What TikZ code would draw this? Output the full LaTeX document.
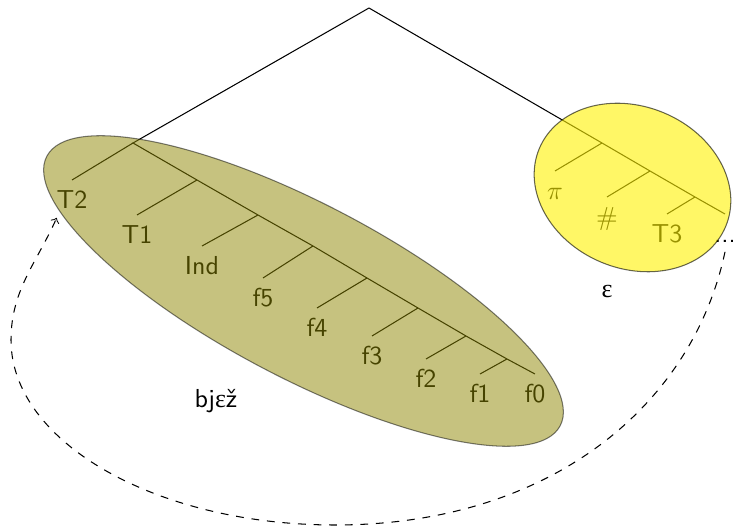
\documentclass[tikz,border=0pt]{standalone}
\usepackage{amsmath}
\usepackage{fontspec}
\newfontfamily\grk{Liberation Serif}
\usepackage{xcolor}
\usepackage{tikz}
\usetikzlibrary{shapes.geometric}

\begin{document}
\begin{tikzpicture}[x=0.3846pt, y=-0.3846pt,
    leaf/.style={anchor=north, font=\sffamily, text height=7.5pt, text depth=0pt},
    bag/.style={ellipse, draw, inner sep=0pt, opacity=#1}]
    \useasboundingbox (0,0) rectangle (733,529);

    % 1. Root and branch points
    \coordinate (root) at (369,8);
    \foreach \n/\x/\y in {a1/133/143, a2/197/180, a3/258/215, a4/313/246,
        a5/367/278, a6/418/308, a7/466/336, a8/507/359,
        b1/602/143, b2/650/171, b3/695/197}
        \coordinate (\n) at (\x,\y);

    % 2. Leaves
    \foreach \n/\x/\y/\t in {T2/72/180/T2, T1/137/215/T1, Ind/202/246/Ind,
        f5/263/278/f5, f4/317/308/f4, f3/372/336/f3, f2/426/359/f2,
        f1/480/374/f1, f0/535/374/f0,
        pi/555/171/$\pi$, hash/607/197/\#, T3/667/214/T3}
        \node[leaf] (\n) at (\x,\y) {\t};
    \node[leaf] (dots) at (725,214) {...};

    % 3. Branches
    \draw (root) -- (a1) -- (a2) -- (a3) -- (a4) -- (a5) -- (a6) -- (a7) -- (a8) -- (f0.north);
    \draw (root) -- (b1) -- (b2) -- (b3) -- (dots.north);
    \foreach \a/\n in {a1/T2, a2/T1, a3/Ind, a4/f5, a5/f4, a6/f3, a7/f2, a8/f1,
        b1/pi, b2/hash, b3/T3}
        \draw (\a) -- (\n.north);

    % 4. Ellipses over the tree
    \node[bag=0.5, fill=olive, minimum width=223pt, minimum height=67pt, rotate=-27.7] (bjez) at (303.5,291) {};
    \node[bag=0.6, fill=yellow, minimum width=77.7pt, minimum height=62.3pt, rotate=-22.6] (eps) at (632.5,187.5) {};

    % 5. Names
    \node (bjezname) at (216,401) {\sffamily bj{\grk ε}ž};
    \node (epsname) at (607,292) {\grk ε};

    % 6. Back arrow
    \coordinate (bot) at (335,525);
    \coordinate (lft) at (11,340);
    \draw[->, dashed] (dots.south) .. controls +(-33,155) and +(214,0) .. (bot)
        .. controls +(-179,0) and +(0,102) .. (lft)
        .. controls +(0,-50) and +(-20,45) .. (T2.231);
\end{tikzpicture}
\end{document}
